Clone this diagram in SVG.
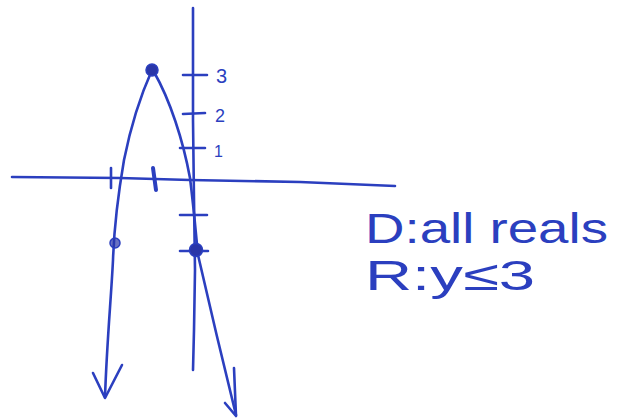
<svg xmlns="http://www.w3.org/2000/svg" width="621" height="419" viewBox="0 0 621 419">
<style>
.ink{fill:none;stroke:#2b3fbf;stroke-width:2.6;stroke-linecap:round;stroke-linejoin:round}
.dot{fill:#2a36a8;stroke:#2b3fbf;stroke-width:1.5}
.lbl{fill:#2b3fbf;font-family:"Liberation Sans",Arial,sans-serif}
</style>
<rect width="621" height="419" fill="#ffffff"/>
<g id="axes">
<path class="ink" d="M12,177 L120,178 L190,180 L300,182 L395,186"/>
<path class="ink" d="M193,8 L193,120 L194,200 L195,270 L194,330 L193,370"/>
</g>
<g id="ticks">
<path class="ink" d="M183,75 L207,75 M183,114 L205,113 M180,148 L205,148 M180,215 L207,215 M180,251 L208,251"/>
<path class="ink" d="M111,168 L111,188"/>
<path class="ink" d="M153,168 L156,190" style="stroke-width:4"/>
</g>
<g id="tick-labels">
<text class="lbl" x="216" y="83" font-size="20">3</text>
<text class="lbl" x="215" y="122" font-size="18">2</text>
<text class="lbl" x="214" y="157" font-size="16">1</text>
</g>
<g id="parabola">
<path class="ink" d="M152,70 C143,90 132,120 124,160 C118,195 114,230 113,260 C111,300 107,340 105,397"/>
<path class="ink" d="M154,72 C170,100 183,140 190,178 C194,210 196,235 198,255 C206,290 220,350 236,415"/>
<path class="ink" d="M93,373 L105,398 L122,365"/>
<path class="ink" d="M225,403 L236,416 L234,368"/>
</g>
<g id="points">
<circle class="dot" cx="152" cy="70" r="6"/>
<circle class="dot" cx="115" cy="243" r="5" fill-opacity="0.7"/>
<circle class="dot" cx="196" cy="250" r="6.5"/>
</g>
<g id="domain-range">
<text class="lbl" x="365" y="243" font-size="42" textLength="243" lengthAdjust="spacingAndGlyphs">D:all reals</text>
<text class="lbl" x="365" y="290" font-size="42" textLength="170" lengthAdjust="spacingAndGlyphs">R:y≤3</text>
</g>
</svg>
